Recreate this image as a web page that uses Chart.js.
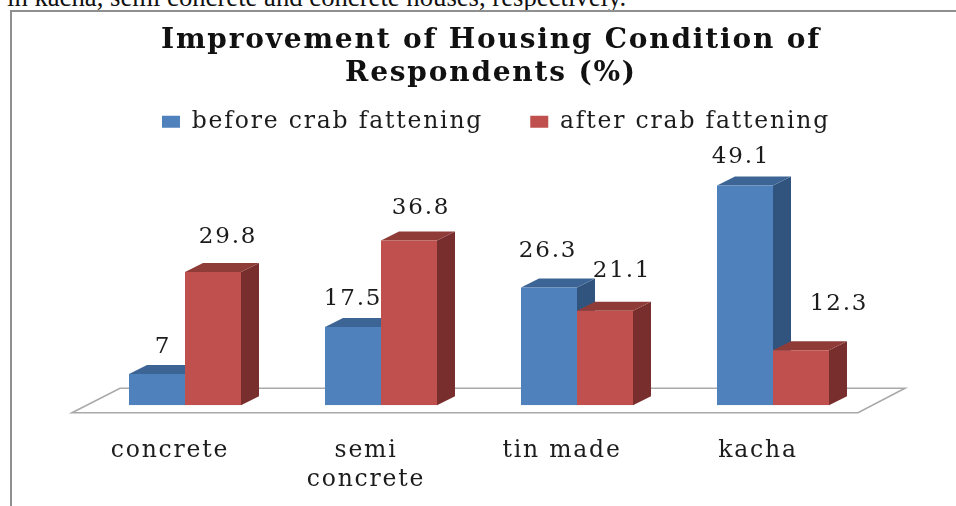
<!DOCTYPE html>
<html><head><meta charset="utf-8">
<script src="https://cdn.jsdelivr.net/npm/chart.js@4"></script>
<style>
html,body{margin:0;padding:0;background:#fff;width:956px;height:506px;overflow:hidden}
#cap{position:absolute;left:7px;top:-18px;font:26.7px "Liberation Serif",serif;color:#111;white-space:nowrap}
#frame{position:absolute;left:10px;top:10px;width:960px;height:520px;border:2px solid #8f8f8f;box-sizing:border-box}
#c{position:absolute;left:24px;top:0;filter:blur(0.5px)}
</style></head><body>
<div id="cap">in kacha, semi concrete and concrete houses, respectively.</div>
<div id="frame"></div>
<canvas id="c" width="932" height="537"></canvas>
<script>
const titleLines = ['Improvement of Housing Condition of','Respondents (%)'];
const categories = ['concrete',['semi','concrete'],'tin made','kacha'];
const seriesBeforeName = 'before crab fattening';
const seriesAfterName = 'after crab fattening';
const beforeValues = [7,17.5,26.3,49.1];
const afterValues = [29.8,36.8,21.1,12.3];
const beforeLabelNudge = [[6,-27],[0,-28],[-1,-37],[-4,-29]];
const afterLabelNudge = [[15,-35],[12,-33],[17,-40],[38,-46]];

const BLUE='#4f81bd',RED='#c0504d';
const sideCol=['#31547f','#772e2c'], topCol=['#3c6494','#8f3c39'];
const DX=18,DY=9;
const FONT='"DejaVu Serif",serif';
const spacing=c=>{c.ctx.letterSpacing='1.8px';};

const depth={id:'depth',
  beforeUpdate:spacing,beforeLayout:spacing,beforeDraw:spacing,
  afterLayout(c){
    c.legend.left+=17;c.legend.right+=17;
    c.titleBlock.left+=12;c.titleBlock.right+=12;
  },
  beforeDatasetsDraw(c){
    const x=c.ctx,s=c.scales.x,b=c.scales.y.getPixelForValue(0);
    x.save();
    x.beginPath();
    x.moveTo(s.left-15,b+7.5);x.lineTo(s.right-13,b+7.5);
    x.lineTo(s.right+34,b-17);x.lineTo(s.left+33,b-17);x.closePath();
    x.fillStyle='#fff';x.fill();
    x.strokeStyle='#a9a9a9';x.lineWidth=1.6;x.stroke();
    [0,1].forEach(ds=>{
      c.getDatasetMeta(ds).data.forEach(bar=>{
        const l=bar.x-bar.width/2,r=bar.x+bar.width/2,t=bar.y,bt=bar.base;
        x.fillStyle=sideCol[ds];
        x.beginPath();x.moveTo(r,t);x.lineTo(r+DX,t-DY);x.lineTo(r+DX,bt-DY);x.lineTo(r,bt);x.closePath();x.fill();
        x.fillStyle=topCol[ds];
        x.beginPath();x.moveTo(l,t);x.lineTo(l+DX,t-DY);x.lineTo(r+DX,t-DY);x.lineTo(r,t);x.closePath();x.fill();
      });
    });
    x.restore();
  },
  afterDatasetsDraw(c){
    const x=c.ctx;
    x.save();
    x.font='23px '+FONT;x.fillStyle='#1c1c1c';x.textAlign='center';x.textBaseline='middle';
    [[0,beforeLabelNudge],[1,afterLabelNudge]].forEach(([ds,n])=>{
      c.getDatasetMeta(ds).data.forEach((bar,i)=>{
        x.fillText(String(c.data.datasets[ds].data[i]),bar.x+n[i][0],bar.y+n[i][1]);
      });
    });
    x.restore();
  }};

new Chart(document.getElementById('c'),{
  type:'bar',
  data:{labels:categories,datasets:[
    {label:seriesBeforeName,data:beforeValues,backgroundColor:BLUE,categoryPercentage:0.5714,barPercentage:1},
    {label:seriesAfterName,data:afterValues,backgroundColor:RED,categoryPercentage:0.5714,barPercentage:1}]},
  options:{
    responsive:false,animation:false,
    layout:{padding:{left:63,right:85,top:24,bottom:20}},
    plugins:{
      title:{display:true,text:titleLines,font:{family:FONT,size:28,weight:'bold',lineHeight:1.18},color:'#111',padding:{top:0,bottom:10}},
      legend:{display:true,position:'top',labels:{font:{family:FONT,size:23.5},color:'#1c1c1c',boxWidth:18,boxHeight:12,padding:10,
        generateLabels(chart){
          const items=Chart.defaults.plugins.legend.labels.generateLabels(chart);
          items[0].text+='\u00a0\u00a0\u00a0\u00a0';
          return items;
        }}},
      tooltip:{enabled:false}
    },
    scales:{
      x:{grid:{display:false},border:{display:false},
         ticks:{font:{family:FONT,size:23.5,lineHeight:1.23},color:'#1c1c1c',labelOffset:-15,padding:23,maxRotation:0,autoSkip:false}},
      y:{display:false,min:0,max:58.5}
    }
  },
  plugins:[depth]
});
</script></body></html>
